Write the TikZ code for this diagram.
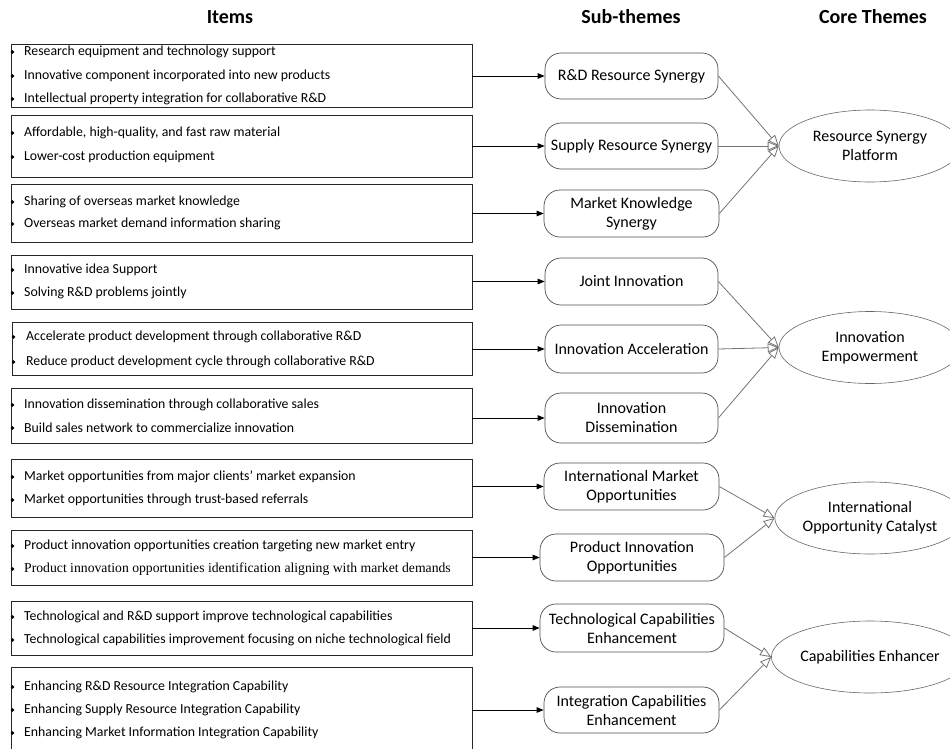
\documentclass[tikz,border=0pt]{standalone}
\usepackage{fontspec}
\setmainfont{Carlito}
\newfontfamily\timesf{Liberation Serif}
\usetikzlibrary{arrows.meta,shapes.geometric}
\tikzset{
  itembox/.style={draw=black!85, line width=0.9pt, rectangle, minimum width=461pt, inner sep=0pt},
  itemtext/.style={anchor=west, inner sep=0pt, font=\fontsize{13.8}{16}\selectfont},
  bul/.style={fill=black, circle, inner sep=0pt, minimum size=3.6pt},
  subbox/.style={draw=black!70, line width=0.7pt, rounded corners=16pt, align=center, inner sep=0pt,
    font=\fontsize{16}{19}\selectfont},
  corebox/.style={draw=black!60, line width=0.6pt, ellipse, inner sep=0pt, align=center,
    minimum width=182pt, minimum height=72pt, font=\fontsize{16}{19}\selectfont},
  head/.style={font=\fontsize{20}{22}\selectfont\bfseries, inner sep=0pt},
  blk/.style={line width=0.9pt, -{Triangle[length=7pt,width=5.5pt]}},
  gry/.style={draw=black!55, line width=0.8pt, -{Triangle[open,length=11pt,width=9pt]}},
}
\newcommand\itm[3]{\node[bul] (d#1) at (12.5,#2) {}; \node[itemtext] (t#1) at (24,#2) {#3};}
\begin{document}
\begin{tikzpicture}[x=1pt,y=-1pt]
\useasboundingbox (0,0) rectangle (950,749);
% headers
\node[head] (h1) at (230,17) {Items};
\node[head] (h2) at (631,17) {Sub-themes};
\node[head] (h3) at (873,17) {Core Themes};
% item boxes
\node[itembox, minimum height=63pt] (b1) at (241.5,75.5) {};
\node[itembox, minimum height=62pt] (b2) at (241.5,146) {};
\node[itembox, minimum height=58pt] (b3) at (241.5,213) {};
\node[itembox, minimum height=54pt] (b4) at (241.5,282) {};
\node[itembox, minimum height=53pt, minimum width=460pt] (b5) at (242,348.5) {};
\node[itembox, minimum height=55pt] (b6) at (241.5,415.5) {};
\node[itembox, minimum height=58pt] (b7) at (241.5,488) {};
\node[itembox, minimum height=55pt] (b8) at (241.5,557.5) {};
\node[itembox, minimum height=54pt] (b9) at (241.5,628) {};
\node[itembox, minimum height=93pt] (b10) at (241.5,713.5) {};
% item texts
\itm{a1}{52}{Research equipment and technology support}
\itm{a2}{76}{Innovative component incorporated into new products}
\itm{a3}{99}{Intellectual property integration for collaborative R\&D}
\itm{b1}{133}{Affordable, high-quality, and fast raw material}
\itm{b2}{157}{Lower-cost production equipment}
\itm{c1}{202}{Sharing of overseas market knowledge}
\itm{c2}{224}{Overseas market demand information sharing}
\itm{e1}{270}{Innovative idea Support}
\itm{e2}{293}{Solving R\&D problems jointly}
\node[bul] (df1) at (13.5,337) {}; \node[itemtext] (tf1) at (26,337) {Accelerate product development through collaborative R\&D};
\node[bul] (df2) at (13.5,362) {}; \node[itemtext] (tf2) at (26,362) {Reduce product development cycle through collaborative R\&D};
\itm{g1}{405}{Innovation dissemination through collaborative sales}
\itm{g2}{428}{Build sales network to commercialize innovation}
\itm{i1}{477}{Market opportunities from major clients' market expansion}
\itm{i2}{500}{Market opportunities through trust-based referrals}
\itm{j1}{546}{Product innovation opportunities creation targeting new market entry}
\node[bul] (dj2) at (12.5,569) {}; \node[itemtext, font=\fontsize{13.7}{16}\timesf] (tj2) at (24,569) {Product innovation opportunities identification aligning with market demands};
\itm{k1}{617}{Technological and R\&D support improve technological capabilities}
\itm{k2}{640}{Technological capabilities improvement focusing on niche technological field}
\itm{l1}{687}{Enhancing R\&D Resource Integration Capability}
\itm{l2}{710}{Enhancing Supply Resource Integration Capability}
\itm{l3}{733}{Enhancing Market Information Integration Capability}
% sub-themes
\node[subbox, minimum width=173pt, minimum height=46pt] (s1) at (631.5,76) {R\&D Resource Synergy};
\node[subbox, minimum width=173pt, minimum height=46pt] (s2) at (631.5,146) {Supply Resource Synergy};
\node[subbox, minimum width=175pt, minimum height=47pt] (s3) at (631.5,213.5) {Market Knowledge\\Synergy};
\node[subbox, minimum width=173pt, minimum height=47pt] (s4) at (631.5,281.5) {Joint Innovation};
\node[subbox, minimum width=173pt, minimum height=48pt] (s5) at (631.5,349) {Innovation Acceleration};
\node[subbox, minimum width=173pt, minimum height=50pt] (s6) at (631.5,418) {Innovation\\Dissemination};
\node[subbox, minimum width=175pt, minimum height=47pt] (s7) at (631.5,486.5) {International Market\\Opportunities};
\node[subbox, minimum width=184pt, minimum height=47pt] (s8) at (632,557.5) {Product Innovation\\Opportunities};
\node[subbox, minimum width=184pt, minimum height=48pt] (s9) at (632,628) {Technological Capabilities\\Enhancement};
\node[subbox, minimum width=175pt, minimum height=46pt] (s10) at (631.5,710) {Integration Capabilities\\Enhancement};
% core themes
\node[corebox] (c1) at (870,146) {Resource Synergy\\Platform};
\node[corebox] (c2) at (870,347.5) {Innovation\\Empowerment};
\node[corebox] (c3) at (870,518) {International\\Opportunity Catalyst};
\node[corebox] (c4) at (870,657) {Capabilities Enhancer};
% black arrows
\foreach \i in {1,...,10} {\draw[blk] (b\i.east |- s\i.west) -- (s\i.west);}
% gray arrows
\foreach \s/\c in {1/1,2/1,3/1,4/2,5/2,6/2,7/3,8/3,9/4,10/4} {\draw[gry] (s\s.east) -- (c\c.west);}
\end{tikzpicture}
\end{document}
